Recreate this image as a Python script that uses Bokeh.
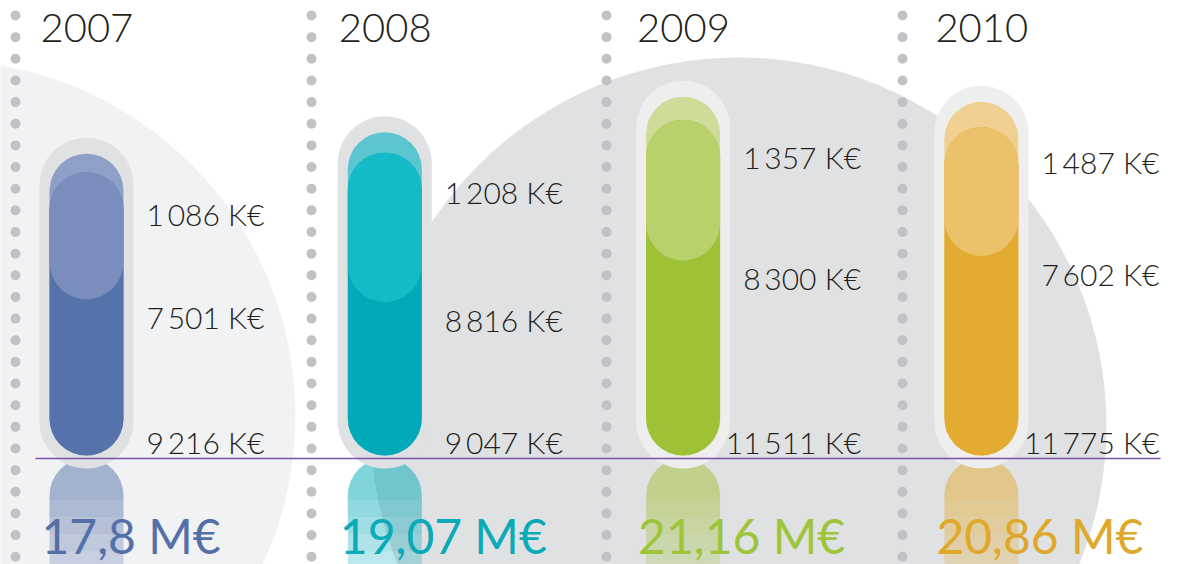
from bokeh.plotting import figure
from bokeh.models import Range1d
from bokeh.embed import file_html
from bokeh.resources import INLINE
from bokeh.core.properties import value

# ---------------- data (K€) ----------------
years = [2007, 2008, 2009, 2010]
base_k = [9216, 9047, 11511, 11775]      # lower segment
middle_k = [7501, 8816, 8300, 7602]      # middle segment
top_k = [1086, 1208, 1357, 1487]         # upper segment
year_labels = ["2007", "2008", "2009", "2010"]

# ---------------- colours ----------------
bottom_colors = ["#5672aa", "#02a9b8", "#9dc236", "#e3ac30"]
middle_colors = ["#7a8dbd", "#15bac7", "#b8d16d", "#ebc16a"]
top_colors = ["#8ea0c8", "#5bc6d0", "#cddd98", "#f0cf90"]
total_colors = ["#5570a8", "#0aaab8", "#9dc53a", "#e0a82a"]
halo_colors = ["#e0e1e3", "#e0e1e3", "#eeeeef", "#eeeeef"]

# ---------------- layout constants ----------------
W, H = 1179, 564
K_PER_PX = 59.0          # K€ per screen pixel
BASE_PX = 455            # screen row of the zero line
PX_PER_YEAR = 298.3
FIRST_PX = 86
BAR_W = 74 / PX_PER_YEAR
HALO_W = 94 / PX_PER_YEAR
FONT = value("Lato")
LIGHT = value("Lato Light")

totals = [b + m + t for b, m, t in zip(base_k, middle_k, top_k)]
base_mid = [b + m for b, m in zip(base_k, middle_k)]


def fmt_k(v):
    return f"{v:,}".replace(",", "\u2009") + " K€"


def fmt_m(total_k):
    hundredths = total_k // 10
    s = f"{hundredths // 100},{hundredths % 100:02d}".rstrip("0").rstrip(",")
    return s + " M€"


p = figure(width=W, height=H,
           x_range=Range1d(2007 - FIRST_PX / PX_PER_YEAR, 2007 + (W - FIRST_PX) / PX_PER_YEAR),
           y_range=Range1d(-(H - BASE_PX) * K_PER_PX, BASE_PX * K_PER_PX),
           output_backend="svg", toolbar_location=None, min_border=0,
           x_axis_location=None, y_axis_location=None)
p.grid.visible = False
p.outline_line_color = None
p.background_fill_color = "white"
p.border_fill_color = "white"
p.extra_x_ranges = {"px": Range1d(0, W)}
p.extra_y_ranges = {"px": Range1d(H, 0)}

# background discs (decoration, screen coordinates)
p.scatter(x=[-60], y=[415], size=710, marker="circle", fill_color="#f1f2f4",
          line_color=None, x_range_name="px", y_range_name="px")
p.scatter(x=[738], y=[425], size=736, marker="circle", fill_color="#e0e1e3",
          line_color=None, x_range_name="px", y_range_name="px")

# dotted separators
dot_x, dot_y = [], []
for sx in [15, 311, 606, 902]:
    for k in range(26):
        dot_x.append(sx)
        dot_y.append(15 + 21.65 * k)
p.scatter(x=dot_x, y=dot_y, size=10, marker="circle", fill_color="#c1c2c6",
          line_color=None, x_range_name="px", y_range_name="px")

# reflections (mirror of lower segment, fading)
bands = [(3, 45, 0.5), (45, 62, 0.44), (62, 79, 0.38), (79, 96, 0.32), (96, 115, 0.27)]
for i, (a, b, alpha) in enumerate(bands):
    tops = [max(-bk, -a * K_PER_PX) for bk in base_k]
    bots = [max(-bk, -b * K_PER_PX) for bk in base_k]
    p.vbar(x=years, width=BAR_W, top=tops, bottom=bots, fill_color=bottom_colors,
           fill_alpha=alpha, line_color=None,
           border_radius=(37, 37, 0, 0) if i == 0 else 0)

# halo around each bar
p.vbar(x=years, width=HALO_W, bottom=-13 * K_PER_PX,
       top=[t + 16 * K_PER_PX for t in totals], fill_color=halo_colors,
       line_color=None, border_radius=47)

# stacked capsule bars
p.vbar(x=years, width=BAR_W, bottom=0, top=totals, fill_color=top_colors,
       line_color=None, border_radius=37)
p.vbar(x=years, width=BAR_W, bottom=0, top=base_mid, fill_color=bottom_colors,
       line_color=None, border_radius=37)
p.vbar(x=years, width=BAR_W, bottom=base_k, top=base_mid, fill_color=middle_colors,
       line_color=None, border_radius=37)

# purple base line
p.segment(x0=[35], y0=[458], x1=[1160], y1=[458], line_color="#7b52ab",
          line_width=1.3, x_range_name="px", y_range_name="px")

# year titles
p.text(x=years, y=[27] * 4, text=year_labels, y_range_name="px",
       text_font=LIGHT, text_font_size="40px", text_color="#231f20",
       text_align="left", text_baseline="alphabetic", x_offset=-46)

# value labels
lab_kw = dict(text_font=LIGHT, text_font_size="30px", text_color="#231f20",
              text_align="right", text_baseline="alphabetic", x_offset=178)
p.text(x=years, y=[0] * 4, text=[fmt_k(v) for v in base_k], y_offset=-14, **lab_kw)
p.text(x=years, y=base_k, text=[fmt_k(v) for v in middle_k], y_offset=18, **lab_kw)
p.text(x=years, y=totals, text=[fmt_k(v) for v in top_k], y_offset=60, **lab_kw)

# totals
p.text(x=years, y=[535] * 4, text=[fmt_m(t) for t in totals], y_range_name="px",
       text_font=FONT, text_font_size="48px", text_color=total_colors,
       text_align="left", text_baseline="alphabetic", x_offset=-45)

open("out.html", "w").write(file_html(p, INLINE))
